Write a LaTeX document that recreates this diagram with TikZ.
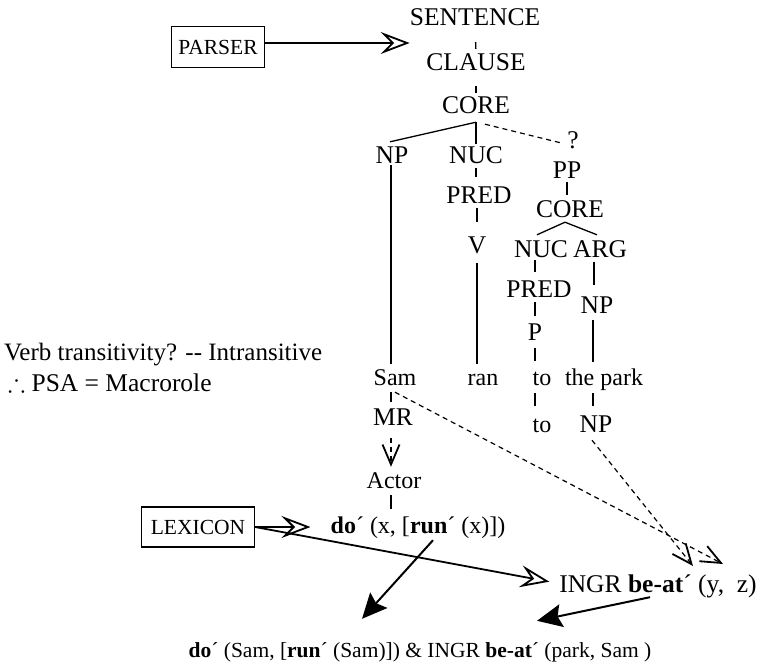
\documentclass[tikz,border=0pt]{standalone}
\usepackage{fontspec}
\usepackage{amssymb}
\setmainfont{Liberation Serif}
\usetikzlibrary{arrows.meta}

\begin{document}
\begin{tikzpicture}[x=1pt,y=-1pt,
    lbl/.style={font=\fontsize{25.5}{30}\selectfont, inner sep=0pt,
      text height=17pt, text depth=0pt, anchor=base},
    word/.style={lbl, font=\fontsize{24}{28}\selectfont},
    box/.style={draw, line width=1.3pt, font=\fontsize{21.5}{24}\selectfont,
      inner sep=0pt, text height=15pt, text depth=0pt},
    branch/.style={line width=1.3pt},
    link/.style={line width=1.2pt, dash pattern=on 5pt off 4pt},
    feed/.style={line width=1.8pt, -{Stealth[open, length=29pt, width=22pt, inset=11pt]}},
    merge/.style={line width=2pt, -{Stealth[length=25pt, width=23pt, inset=4pt]}},
    barb/.style={-{Straight Barb[length=20pt, width=17pt, line width=1.8pt]}}]
  \useasboundingbox (0,0) rectangle (759,664);

  % tree
  \node[lbl] (sentence) at (475,25) {SENTENCE};
  \node[lbl] (clause) at (476,70) {CLAUSE};
  \node[lbl] (core) at (476,113) {CORE};
  \node[lbl] (np) at (392,163) {NP};
  \node[lbl] (nuc) at (476,163) {NUC};
  \node[lbl] (q) at (573,148) {?};
  \node[lbl] (pred) at (479,203) {PRED};
  \node[lbl] (v) at (477,253) {V};
  \node[lbl] (pp) at (567,178) {PP};
  \node[lbl] (ppcore) at (570,217) {CORE};
  \node[lbl] (ppnuc) at (541,257) {NUC};
  \node[lbl] (arg) at (600,257) {ARG};
  \node[lbl] (pppred) at (539,297) {PRED};
  \node[lbl] (argnp) at (597,313) {NP};
  \node[lbl] (p) at (535,340) {P};
  \node[word] (sam) at (395,385) {Sam};
  \node[word] (ran) at (483,385) {ran};
  \node[word] (to) at (542,385) {to};
  \node[word] (park) at (604,385) {the park};
  \node[word] (to2) at (542,432) {to};
  \node[lbl] (parknp) at (596,432) {NP};
  \node[lbl] (mr) at (393,425) {MR};
  \node[word] (actor) at (394,488) {Actor};

  \draw[branch, shorten <=17pt, shorten >=4pt] (sentence.south) -- (clause.north);
  \draw[branch, shorten <=16pt, shorten >=3pt] (clause.south) -- (core.north);
  \draw[branch] ([yshift=-9pt]core.south) -- ([xshift=-2pt, yshift=4pt]np.north);
  \draw[branch, shorten <=9pt, shorten >=2pt] (core.south) -- (nuc.north);
  \draw[link] ([xshift=9pt, yshift=-11pt]core.south) -- ([xshift=-5pt, yshift=5pt]q.south west);
  \draw[branch, shorten <=5pt, shorten >=9pt] (nuc.south) -- (nuc.south |- pred.north);
  \draw[branch, shorten <=5pt, shorten >=14pt] (v.north |- pred.south) -- (v.north);
  \draw[branch, shorten <=10pt, shorten >=4pt] (v.south) -- (v.south |- ran.north);
  \draw[branch, shorten <=2pt, shorten >=4pt] ([xshift=-1pt]np.south) -- ([xshift=-1pt]np.south |- sam.north);
  \draw[branch, shorten <=4pt, shorten >=5pt] (pp.south) -- (pp.south |- ppcore.north);
  \draw[branch] ([xshift=-5pt, yshift=-5pt]ppcore.south) -- ([xshift=-4pt, yshift=5pt]ppnuc.north);
  \draw[branch] ([xshift=-5pt, yshift=-5pt]ppcore.south) -- ([xshift=-3pt, yshift=5pt]arg.north);
  \draw[branch, shorten <=3pt, shorten >=8pt] (p.north |- ppnuc.south) -- (p.north |- pppred.north);
  \draw[branch, shorten <=5pt, shorten >=28pt] ([xshift=-6pt]arg.south) -- ([xshift=-6pt]arg.south |- argnp.south);
  \draw[branch, shorten <=5pt, shorten >=7pt] (p.north |- pppred.south) -- (p.north);
  \draw[branch, shorten <=8pt, shorten >=7pt] (p.south) -- (p.south |- to.north);
  \draw[branch, shorten <=8pt, shorten >=9pt] (p.south |- to.south) -- (p.south |- to2.north);
  \draw[branch, shorten <=7pt, shorten >=6pt] ([xshift=-4pt]argnp.south) -- ([xshift=-4pt]argnp.south |- park.north);
  \draw[branch, shorten <=8pt, shorten >=9pt] ([xshift=-3pt]parknp.north |- park.south) -- ([xshift=-3pt]parknp.north);
  \draw[branch, shorten <=7pt, shorten >=6pt] ([xshift=-4pt]sam.south) -- ([xshift=-4pt]sam.south |- mr.north);
  \draw[link, barb, shorten <=13pt, shorten >=4pt] ([xshift=-2pt]mr.south) -- ([xshift=-2pt]mr.south |- actor.north);

  % semantics
  \node[box, minimum width=93pt, minimum height=41pt] (parser) at (218,47) {PARSER};
  \node[box, minimum width=113pt, minimum height=40pt] (lexicon) at (198,527) {LEXICON};
  \node[word] (doform) at (418,533) {\textbf{do}´ (x, [\textbf{run}´ (x)])};
  \node[lbl] (ingr) at (658,592) {INGR \textbf{be-at}´ (y,\ \ z)};
  \node[word, font=\fontsize{21.5}{24}\selectfont] (result) at (420,657)
    {\textbf{do}´ (Sam, [\textbf{run}´ (Sam)]) \& INGR \textbf{be-at}´ (park, Sam )};
  \node[word, anchor=base west, font=\fontsize{25}{30}\selectfont] (transq) at (4,360) {Verb transitivity? -{}- Intransitive};
  \node[word, anchor=base west, font=\fontsize{25.5}{30}\selectfont] (psa) at (8,391) {$\therefore$ PSA = Macrorole};
  \coordinate (yarg) at (693,566);
  \coordinate (zarg) at (723,564);

  \draw[branch, shorten <=7pt, shorten >=7pt] ([xshift=-3pt]actor.south) -- ([xshift=-3pt]actor.south |- doform.north);
  \draw[feed] ([yshift=4pt]parser.east) -- ([yshift=4pt]parser.east -| sentence.west);
  \draw[feed, shorten >=20pt] (lexicon.east) -- (lexicon.east -| doform.west);
  \draw[feed, shorten >=10pt] (lexicon.east) -- (ingr.west);
  \draw[merge] ([xshift=15pt, yshift=-7pt]doform.south) -- ([xshift=-58pt, yshift=21pt]result.north);
  \draw[merge] ([xshift=-8pt, yshift=-5pt]ingr.south) -- ([xshift=117pt, yshift=19pt]result.north);
  \draw[link, barb] ([yshift=-7pt]sam.south) -- (zarg);
  \draw[link, barb] ([xshift=-4pt, yshift=-8pt]parknp.south) -- (yarg);
\end{tikzpicture}
\end{document}
